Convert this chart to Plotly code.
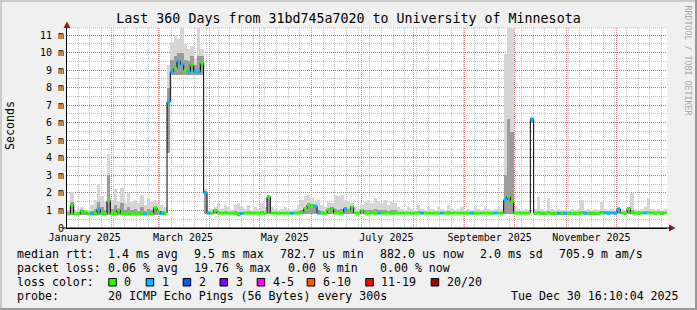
import plotly.graph_objects as go
import pandas as pd

# ---------------- data ----------------
range_start = "2025-01-05 09:00"
range_end = "2025-12-31 09:00"
bin_days = 2

median_ms = [
    0.80, 1.30, 0.80, 0.80, 0.97, 0.92, 0.80, 0.80, 0.82, 1.05,
    0.82, 0.80, 1.56, 0.80, 0.82, 1.03, 0.80, 0.80, 0.82, 0.80,
    0.80, 0.81, 0.82, 0.80, 0.80, 0.80, 1.16, 0.95, 0.82, 0.85,
    7.20, 8.90, 9.10, 9.50, 9.30, 9.00, 8.90, 9.30, 8.90, 8.90,
    9.40, 2.00, 0.85, 0.85, 1.00, 0.85, 0.84, 0.85, 0.85, 0.85,
    0.84, 0.75, 0.84, 0.85, 0.85, 0.85, 0.85, 0.84, 0.85, 0.85,
    1.78, 0.85, 0.85, 0.84, 0.85, 0.85, 0.85, 0.84, 0.85, 0.85,
    0.88, 1.10, 1.30, 1.25, 1.25, 0.85, 0.85, 0.85, 1.05, 1.12,
    0.85, 0.85, 0.85, 1.10, 1.00, 1.20, 0.85, 0.85, 1.00, 0.85,
    0.85, 0.85, 0.84, 0.85, 0.85, 0.85, 0.85, 0.84, 0.85, 0.85,
    0.85, 0.85, 0.85, 0.84, 0.85, 0.85, 0.85, 0.85, 0.85, 0.84,
    0.85, 0.85, 0.85, 0.85, 0.84, 0.85, 0.85, 0.85, 0.85, 0.85,
    0.84, 0.85, 0.85, 0.85, 0.85, 0.85, 0.85, 0.84, 0.85, 0.85,
    0.85, 1.60, 1.80, 1.50, 0.85, 0.85, 0.85, 0.84, 0.85, 6.20,
    0.85, 0.85, 0.85, 0.85, 0.85, 0.85, 0.85, 0.85, 0.85, 0.85,
    0.85, 0.85, 0.85, 0.85, 0.85, 0.85, 0.85, 0.85, 0.85, 0.85,
    0.86, 0.86, 0.86, 0.86, 0.86, 1.08, 0.86, 0.86, 1.10, 0.86,
    0.86, 0.86, 0.86, 0.86, 0.86, 0.86, 0.86, 0.86, 0.86, 0.86,
]

smoke_hi = [
    1.05, 2.05, 1.00, 1.10, 1.20, 1.05, 1.05, 1.30, 1.60, 2.50,
    1.80, 1.50, 4.20, 1.60, 2.20, 1.50, 2.30, 1.40, 2.00, 1.50,
    1.60, 1.40, 1.90, 1.30, 1.70, 1.50, 1.60, 1.40, 1.30, 1.20,
    9.30, 10.60, 11.00, 10.80, 11.50, 10.50, 10.20, 10.40, 9.70, 11.50,
    10.20, 2.20, 1.05, 1.10, 1.20, 1.40, 1.10, 1.30, 1.20, 1.00,
    1.30, 1.40, 1.20, 1.10, 1.30, 1.00, 1.20, 1.10, 1.40, 1.20,
    1.90, 1.20, 1.10, 1.00, 1.10, 1.20, 1.10, 1.00, 1.10, 1.30,
    1.60, 1.80, 1.90, 1.70, 1.50, 1.60, 1.30, 1.20, 1.50, 1.40,
    1.90, 1.80, 1.90, 1.60, 1.50, 1.40, 1.20, 1.10, 1.30, 1.50,
    1.60, 1.40, 1.70, 1.50, 1.40, 1.60, 1.30, 1.50, 1.40, 1.20,
    1.10, 1.00, 1.20, 1.10, 1.00, 1.30, 1.10, 1.00, 1.20, 1.10,
    1.00, 1.20, 1.10, 1.00, 1.30, 1.10, 1.00, 1.10, 1.20, 1.00,
    1.10, 1.00, 1.20, 1.10, 1.00, 1.20, 1.10, 1.00, 1.10, 1.20,
    1.10, 9.90, 11.40, 11.40, 1.20, 1.10, 1.00, 1.10, 1.00, 6.30,
    1.10, 1.77, 1.10, 1.00, 1.70, 1.10, 1.00, 1.10, 1.00, 1.10,
    1.00, 1.10, 1.00, 1.10, 1.60, 1.00, 1.10, 1.00, 1.10, 1.00,
    1.50, 1.10, 1.00, 1.10, 1.00, 1.20, 1.10, 1.00, 1.20, 1.98,
    1.10, 1.00, 1.10, 1.20, 1.70, 1.10, 1.00, 1.10, 1.00, 1.10,
]

smoke_mid = [
    0.90, 1.50, 0.88, 0.90, 1.00, 0.92, 0.90, 0.95, 1.10, 1.50,
    1.20, 1.00, 3.00, 1.10, 1.30, 1.10, 1.40, 1.00, 1.20, 1.00,
    1.10, 0.95, 1.20, 0.95, 1.10, 1.00, 1.25, 1.00, 0.95, 0.92,
    8.00, 9.60, 9.80, 10.00, 10.00, 9.60, 9.50, 9.80, 9.30, 9.80,
    9.80, 2.10, 0.92, 0.92, 1.05, 0.95, 0.92, 0.95, 0.92, 0.90,
    0.95, 0.90, 0.92, 0.90, 0.95, 0.90, 0.92, 0.90, 0.95, 0.92,
    1.80, 0.92, 0.90, 0.90, 0.90, 0.92, 0.90, 0.90, 0.90, 0.95,
    1.00, 1.20, 1.40, 1.35, 1.30, 1.00, 0.95, 0.92, 1.10, 1.20,
    1.10, 1.05, 1.10, 1.20, 1.10, 1.25, 0.92, 0.90, 1.05, 1.00,
    1.05, 1.00, 1.10, 1.00, 1.00, 1.05, 0.95, 1.00, 1.00, 0.92,
    0.90, 0.90, 0.92, 0.90, 0.90, 0.95, 0.90, 0.90, 0.92, 0.90,
    0.90, 0.92, 0.90, 0.90, 0.95, 0.90, 0.90, 0.90, 0.92, 0.90,
    0.90, 0.90, 0.92, 0.90, 0.90, 0.92, 0.90, 0.90, 0.90, 0.92,
    0.90, 3.00, 6.20, 5.50, 0.92, 0.90, 0.90, 0.90, 0.90, 6.25,
    0.90, 0.95, 0.90, 0.90, 0.95, 0.90, 0.90, 0.90, 0.90, 0.90,
    0.90, 0.90, 0.90, 0.90, 0.95, 0.90, 0.90, 0.90, 0.90, 0.90,
    0.95, 0.92, 0.90, 0.92, 0.90, 1.12, 0.92, 0.90, 1.15, 1.00,
    0.92, 0.90, 0.92, 0.92, 0.95, 0.92, 0.90, 0.92, 0.90, 0.92,
]

smoke_lo = [
    0.74, 0.76, 0.74, 0.74, 0.75, 0.74, 0.74, 0.74, 0.74, 0.76,
    0.74, 0.74, 0.76, 0.74, 0.74, 0.75, 0.74, 0.74, 0.74, 0.74,
    0.74, 0.74, 0.74, 0.74, 0.74, 0.74, 0.76, 0.75, 0.74, 0.76,
    4.30, 8.70, 8.70, 8.70, 8.70, 8.70, 8.70, 8.70, 8.70, 8.70,
    8.70, 0.80, 0.78, 0.78, 0.78, 0.78, 0.78, 0.78, 0.78, 0.78,
    0.78, 0.72, 0.78, 0.78, 0.78, 0.78, 0.78, 0.78, 0.78, 0.78,
    0.80, 0.78, 0.78, 0.78, 0.78, 0.78, 0.78, 0.78, 0.78, 0.78,
    0.78, 0.80, 0.80, 0.80, 0.80, 0.78, 0.78, 0.78, 0.78, 0.78,
    0.78, 0.78, 0.78, 0.80, 0.78, 0.80, 0.78, 0.78, 0.78, 0.78,
    0.78, 0.78, 0.78, 0.78, 0.78, 0.78, 0.78, 0.78, 0.78, 0.78,
    0.78, 0.78, 0.78, 0.78, 0.78, 0.78, 0.78, 0.78, 0.78, 0.78,
    0.78, 0.78, 0.78, 0.78, 0.78, 0.78, 0.78, 0.78, 0.78, 0.78,
    0.78, 0.78, 0.78, 0.78, 0.78, 0.78, 0.78, 0.78, 0.78, 0.78,
    0.78, 0.80, 0.80, 0.80, 0.78, 0.78, 0.78, 0.78, 0.78, 6.00,
    0.79, 0.79, 0.79, 0.79, 0.79, 0.79, 0.79, 0.79, 0.79, 0.79,
    0.79, 0.79, 0.79, 0.79, 0.79, 0.79, 0.79, 0.79, 0.79, 0.79,
    0.79, 0.79, 0.79, 0.79, 0.79, 0.79, 0.79, 0.79, 0.79, 0.79,
    0.79, 0.79, 0.79, 0.79, 0.79, 0.79, 0.79, 0.79, 0.79, 0.79,
]

# loss category index per bin (0 -> "0", 1 -> "1", ...)
loss_class = [
    0, 0, 0, 0, 0, 0, 0, 1, 0, 1,
    0, 0, 0, 0, 0, 0, 0, 0, 0, 0,
    0, 0, 0, 1, 0, 0, 0, 0, 1, 0,
    1, 1, 0, 1, 1, 0, 1, 0, 1, 1,
    0, 1, 1, 0, 0, 0, 0, 0, 0, 0,
    0, 0, 1, 0, 0, 0, 0, 0, 0, 0,
    0, 0, 0, 0, 0, 0, 0, 1, 0, 0,
    0, 0, 0, 0, 1, 1, 0, 0, 0, 0,
    0, 0, 0, 1, 0, 0, 0, 0, 0, 0,
    0, 0, 0, 1, 0, 0, 0, 0, 0, 0,
    0, 0, 0, 0, 0, 0, 1, 0, 0, 0,
    0, 0, 1, 0, 0, 0, 0, 0, 0, 0,
    0, 1, 0, 0, 0, 0, 0, 0, 1, 0,
    0, 1, 0, 0, 0, 0, 0, 0, 0, 1,
    0, 0, 0, 0, 0, 0, 0, 1, 0, 1,
    0, 0, 0, 0, 0, 1, 0, 0, 0, 0,
    0, 1, 1, 1, 1, 1, 0, 0, 0, 0,
    0, 0, 0, 1, 0, 0, 0, 0, 0, 0,
]

loss_labels = ["0", "1", "2", "3", "4-5", "6-10", "11-19", "20/20"]
loss_colors = ["#26ff00", "#00b8ff", "#0059ff", "#7e00ff",
               "#ff00ff", "#ff5500", "#ff0000", "#a10000"]

x_tick_dates = ["2025-01-16", "2025-03-16", "2025-05-16",
                "2025-07-16", "2025-09-16", "2025-11-16"]
x_tick_labels = ["January 2025", "March 2025", "May 2025",
                 "July 2025", "September 2025", "November 2025"]
y_tick_vals = [0, 1, 2, 3, 4, 5, 6, 7, 8, 9, 10, 11]
y_tick_labels = ["0", "1 m", "2 m", "3 m", "4 m", "5 m", "6 m",
                 "7 m", "8 m", "9 m", "10 m", "11 m"]

title_text = "Last 360 Days from 31bd745a7020 to University of Minnesota"
median_items = ["median rtt:", "1.4 ms avg", "9.5 ms max", "782.7 us min",
                "882.0 us now", "2.0 ms sd", "705.9 m am/s"]
loss_items = ["packet loss:", "0.06 % avg", "19.76 % max", "0.00 % min", "0.00 % now"]
probe_items = ["probe:", "20 ICMP Echo Pings (56 Bytes) every 300s"]
stamp_text = "Tue Dec 30 16:10:04 2025"

# ---------------- geometry helpers ----------------
W, H = 697, 310
L, R, T, B = 67, 30, 28, 82
PW, PH = W - L - R, H - T - B
MONO = "DejaVu Sans Mono"
MAJOR_GRID = "#e88a8a"
MAJOR_GRID_Y = "#e06a6a"
MINOR_GRID = "#c4c4c4"
DASH = "1px,1px"


def px(x):
    return (x - L) / PW


def py(y):
    return (H - B - y) / PH


n = len(median_ms)
t0 = pd.Timestamp(range_start)
step = pd.Timedelta(days=bin_days)
bin_start = [t0 + i * step for i in range(n + 1)]
bin_mid = [t0 + (i + 0.5) * step for i in range(n)]
bin_w = step.total_seconds() * 1000

fig = go.Figure()

# smoke: outer band and darker core
fig.add_trace(go.Bar(
    x=bin_mid, base=smoke_lo, y=[h - l for h, l in zip(smoke_hi, smoke_lo)],
    width=bin_w, marker=dict(color="#d6d6d6", line=dict(width=0)),
    hoverinfo="skip"))
fig.add_trace(go.Bar(
    x=bin_mid, base=smoke_lo, y=[m - l for m, l in zip(smoke_mid, smoke_lo)],
    width=bin_w, marker=dict(color="#9c9c9c", line=dict(width=0)),
    hoverinfo="skip"))

# median (black step line)
fig.add_trace(go.Scatter(
    x=bin_start, y=median_ms + [median_ms[-1]], mode="lines",
    line=dict(color="#000000", width=1, shape="hv"), hoverinfo="skip"))

# median coloured by loss
for c, col in enumerate(loss_colors):
    xs, ys = [], []
    for i in range(n):
        if loss_class[i] == c:
            xs += [bin_start[i], bin_start[i + 1], None]
            ys += [median_ms[i], median_ms[i], None]
    if xs:
        fig.add_trace(go.Scatter(x=xs, y=ys, mode="lines",
                                 line=dict(color=col, width=3), hoverinfo="skip"))

# dummy trace on grid axis
fig.add_trace(go.Scatter(x=[range_start], y=[None], xaxis="x2", mode="markers",
                         hoverinfo="skip"))

shapes = []
annotations = []

# top grid line of the canvas
shapes.append(dict(type="line", xref="paper", yref="paper", x0=0, x1=1, y0=1, y1=1,
                   layer="below", line=dict(color=MINOR_GRID, width=1, dash=DASH)))

# arrows and axis extensions
arrow_col = "#8b1a1a"
shapes.append(dict(type="path", xref="paper", yref="paper", xsizemode="pixel",
                   ysizemode="pixel", xanchor=0, yanchor=1,
                   path="M -3.5,0 L 3.5,0 L 0,6.5 Z", fillcolor=arrow_col,
                   line=dict(width=0)))
shapes.append(dict(type="path", xref="paper", yref="paper", xsizemode="pixel",
                   ysizemode="pixel", xanchor=1, yanchor=0,
                   path="M 2,-3.5 L 2,3.5 L 8.5,0 Z", fillcolor=arrow_col,
                   line=dict(width=0)))
shapes.append(dict(type="line", xref="paper", yref="paper", x0=px(62.5), x1=px(669.5),
                   y0=0, y1=0, line=dict(color="#000000", width=1)))

# frame shading
shapes.append(dict(type="rect", xref="paper", yref="paper", x0=px(0), x1=px(W),
                   y0=py(0), y1=py(2), fillcolor="#cbcbcb", line=dict(width=0)))
shapes.append(dict(type="rect", xref="paper", yref="paper", x0=px(0), x1=px(2),
                   y0=py(0), y1=py(H), fillcolor="#cbcbcb", line=dict(width=0)))
shapes.append(dict(type="rect", xref="paper", yref="paper", x0=px(0), x1=px(W),
                   y0=py(H - 2), y1=py(H), fillcolor="#999999", line=dict(width=0)))
shapes.append(dict(type="rect", xref="paper", yref="paper", x0=px(W - 2), x1=px(W),
                   y0=py(0), y1=py(H), fillcolor="#999999", line=dict(width=0)))


def text_at(x, y, s, size=11.6, anchor="left", color="#000000", angle=0):
    annotations.append(dict(x=px(x), y=py(y), xref="paper", yref="paper", text=s,
                            showarrow=False, xanchor=anchor, yanchor="middle",
                            textangle=angle, borderpad=0,
                            font=dict(family=MONO, size=size, color=color)))


# legend lines
med_x = [16, 107.3, 193.3, 279.3, 379.3, 479.3, 558.3]
for xx, s in zip(med_x, median_items):
    text_at(xx, 254.3, s)
loss_x = [16, 107.3, 193.3, 286.7, 379.3]
for xx, s in zip(loss_x, loss_items):
    text_at(xx, 268.3, s)
text_at(16, 282.3, "loss color:")
sq_x = [108.3, 145.7, 182.7, 219.5, 256.7, 306.7, 365.3, 430.7]
for xx, lab, col in zip(sq_x, loss_labels, loss_colors):
    shapes.append(dict(type="rect", xref="paper", yref="paper", x0=px(xx + 0.5),
                       x1=px(xx + 8), y0=py(286), y1=py(278.5), fillcolor=col,
                       line=dict(color="#000000", width=1)))
    text_at(xx + 15, 282.3, lab)
text_at(16, 296.3, probe_items[0])
text_at(107.3, 296.3, probe_items[1])
text_at(680, 296.3, stamp_text, anchor="right")

# y title and watermark
text_at(10, 126, "Seconds", size=11.6, anchor="center", angle=-90)
text_at(687.5, 60, "RRDTOOL / TOBI OETIKER", size=8.3, anchor="center",
        color="#a8a8a8", angle=90)

fig.update_layout(
    width=W, height=H, autosize=False,
    margin=dict(l=L, r=R, t=T, b=B, pad=0),
    paper_bgcolor="#f0f0f0", plot_bgcolor="#ffffff",
    showlegend=False, hovermode=False, barmode="overlay", bargap=0,
    title=dict(text=title_text, x=0.5, xref="container", xanchor="center",
               y=1 - 18 / H, yanchor="middle",
               font=dict(family=MONO, size=13.3, color="#000000")),
    xaxis=dict(type="date", range=[range_start, range_end], tickmode="array",
               tickvals=x_tick_dates, ticktext=x_tick_labels, showgrid=False,
               zeroline=False, ticks="", showline=True, linecolor="#000000",
               linewidth=1, tickfont=dict(family=MONO, size=10, color="#000000")),
    xaxis2=dict(type="date", range=[range_start, range_end], overlaying="x",
                anchor="y", side="bottom", showticklabels=False, ticks="",
                showline=False, zeroline=False,
                tickmode="linear", tick0="2025-01-01", dtick="M1",
                showgrid=True, gridcolor=MAJOR_GRID, gridwidth=1, griddash=DASH,
                minor=dict(tickmode="linear", tick0="2025-01-05",
                           dtick=7 * 86400000, showgrid=True, gridcolor=MINOR_GRID,
                           gridwidth=1, griddash=DASH, ticks="")),
    yaxis=dict(range=[0, 11.4], tickmode="array", tickvals=y_tick_vals,
               ticktext=y_tick_labels, showgrid=True, gridcolor=MAJOR_GRID_Y,
               gridwidth=1, griddash=DASH, zeroline=False, ticks="",
               showline=True, linecolor="#000000", linewidth=1,
               tickfont=dict(family=MONO, size=10, color="#000000"),
               minor=dict(tickmode="linear", tick0=0.5, dtick=1, showgrid=True,
                          gridcolor=MINOR_GRID, gridwidth=1, griddash=DASH,
                          ticks="")),
    shapes=shapes, annotations=annotations,
)

fig.write_html("out.html")
